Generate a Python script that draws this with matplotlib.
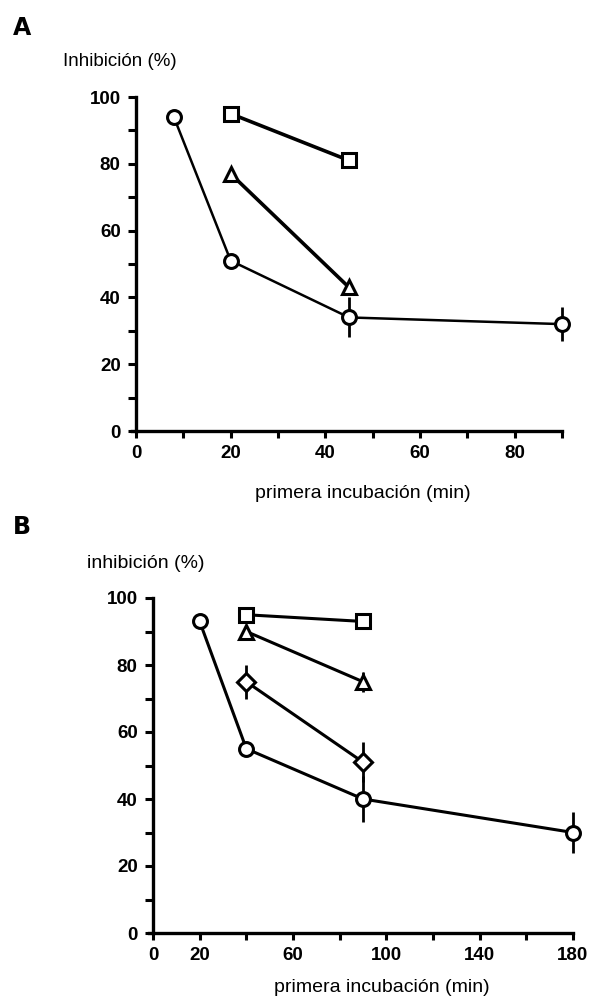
import matplotlib
matplotlib.use("Agg")
import matplotlib.pyplot as plt
import numpy as np

# ---- data ----
a_circle_x = [8, 20, 45, 90]
a_circle_y = [94, 51, 34, 32]
a_circle_err = [0, 0, 6, 5]
a_square_x = [20, 45]
a_square_y = [95, 81]
a_tri_x = [20, 45]
a_tri_y = [77, 43]

b_circle_x = [20, 40, 90, 180]
b_circle_y = [93, 55, 40, 30]
b_circle_err = [0, 0, 7, 6]
b_square_x = [40, 90]
b_square_y = [95, 93]
b_tri_x = [40, 90]
b_tri_y = [90, 75]
b_tri_err = [0, 3]
b_diam_x = [40, 90]
b_diam_y = [75, 51]
b_diam_err = [5, 6]

a_xticks_major = [0, 20, 40, 60, 80]
b_xtick_labels = [0, 20, 60, 100, 140, 180]
y_ticks_major = [0, 20, 40, 60, 80, 100]

ylabel_a = "Inhibición (%)"
ylabel_b = "inhibición (%)"
xlabel = "primera incubación (min)"

FONT = ['Liberation Sans Narrow', 'Liberation Sans', 'DejaVu Sans']
plt.rcParams['font.family'] = FONT

W, H = 591, 1007
fig = plt.figure(figsize=(W / 100, H / 100), dpi=100)

def ax_rect(x0, x1, y_top, y_bot):
    return [x0 / W, 1 - y_bot / H, (x1 - x0) / W, (y_bot - y_top) / H]

axA = fig.add_axes(ax_rect(136, 562, 97, 431))
axB = fig.add_axes(ax_rect(153, 573, 598, 933))

LW = 2.2
MEW = 2.2
MS = 10

def style(ax, xmax, xmajor, xminor, xlabels, weight):
    ax.set_xlim(0, xmax)
    ax.set_ylim(0, 100)
    for s in ['top', 'right']:
        ax.spines[s].set_visible(False)
    for s in ['left', 'bottom']:
        ax.spines[s].set_linewidth(2.4)
    ax.spines['bottom'].set_bounds(-xmax * 0.01, xmax)
    ax.set_xticks(xmajor)
    ax.set_xticklabels([str(v) for v in xlabels], fontsize=13.5, fontweight=weight)
    ax.set_xticks(xminor, minor=True)
    ax.set_yticks(y_ticks_major)
    ax.set_yticklabels([str(v) for v in y_ticks_major], fontsize=13.5, fontweight=weight)
    ax.set_yticks(np.arange(10, 100, 20), minor=True)
    ax.tick_params(axis='both', which='both', direction='out', width=2.2, length=6, pad=5)
    ax.tick_params(axis='x', which='both', length=5)
    ax.patch.set_alpha(0)
    for sp in ax.spines.values():
        sp.set_clip_on(False)

style(axA, 90, a_xticks_major, np.arange(10, 91, 20), a_xticks_major, 'bold')
b_major = list(range(0, 181, 20))
style(axB, 180, b_xtick_labels, [v for v in b_major if v not in b_xtick_labels], b_xtick_labels, 'bold')

def series(ax, x, y, err, marker, ms=MS, lw=LW):
    ax.errorbar(x, y, yerr=err, color='black', lw=lw, marker=marker, ms=ms,
                mfc='white', mec='black', mew=MEW, ecolor='black', elinewidth=2.0,
                capsize=0, clip_on=False, zorder=3)

series(axA, a_circle_x, a_circle_y, a_circle_err, 'o', lw=1.8)
series(axA, a_square_x, a_square_y, [0, 0], 's', lw=2.6)
series(axA, a_tri_x, a_tri_y, [0, 0], '^', lw=2.6)

series(axB, b_circle_x, b_circle_y, b_circle_err, 'o')
series(axB, b_square_x, b_square_y, [0, 0], 's')
series(axB, b_tri_x, b_tri_y, b_tri_err, '^')
series(axB, b_diam_x, b_diam_y, b_diam_err, 'D', ms=9)

def ftext(x, y, s, **kw):
    fig.text(x / W, 1 - y / H, s, ha='center', va='center', **kw)

ftext(22, 28, "A", fontsize=17, fontweight='heavy', family=['DejaVu Sans'])
ftext(120, 62, ylabel_a, fontsize=13.5)
ftext(363, 494, xlabel, fontsize=14)
ftext(22, 527, "B", fontsize=17, fontweight='heavy', family=['DejaVu Sans'])
ftext(146, 564, ylabel_b, fontsize=14)
ftext(382, 987, xlabel, fontsize=14)

fig.savefig("out.png", dpi=100)
